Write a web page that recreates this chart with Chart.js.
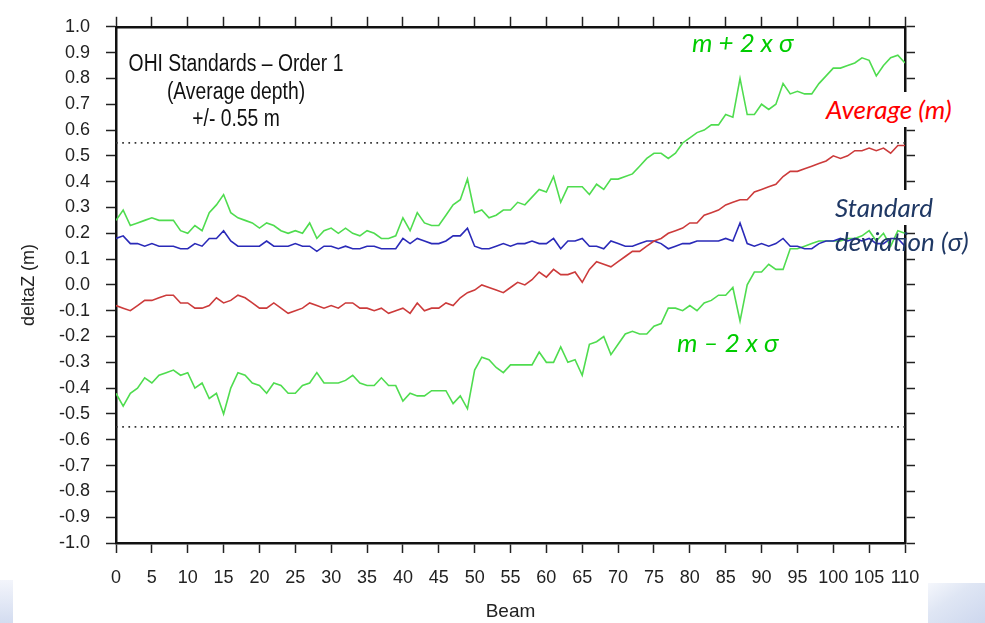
<!DOCTYPE html>
<html>
<head>
<meta charset="utf-8">
<script src="https://cdn.jsdelivr.net/npm/chart.js@4.4.1/dist/chart.umd.min.js"></script>
<style>
html,body{margin:0;padding:0;background:#fff;}
#wrap{position:relative;width:985px;height:623px;overflow:hidden;background:#fff;}
canvas{position:absolute;left:0;top:0;}
.ann{position:absolute;white-space:nowrap;font-family:Lato,"Open Sans",sans-serif;font-style:italic;font-size:26px;line-height:35px;}
#ohi{position:absolute;left:236px;top:50px;transform:translateX(-50%) scaleX(0.84);font-family:"Liberation Sans",Arial,sans-serif;font-size:23px;line-height:27.5px;text-align:center;color:#111;white-space:nowrap;}
#cl{position:absolute;left:0;top:580px;width:13px;height:43px;background:linear-gradient(to bottom,#f3f5fb,#d3dcf0);}
#cr{position:absolute;left:928px;top:583px;width:57px;height:40px;background:linear-gradient(to bottom right,#f5f7fc 0%,#dfe6f4 40%,#cdd7ee 100%);}
</style>
</head>
<body>
<div id="wrap">
<div id="cl"></div>
<div id="cr"></div>
<canvas id="c" width="985" height="623"></canvas>
<div id="ohi">OHI Standards – Order 1<br>(Average depth)<br>+/- 0.55 m</div>
<div class="ann" style="left:692px;top:25px;color:#00cc00;">m + 2 x σ</div>
<div class="ann" style="left:820px;top:92px;padding:0 6px;background:#fff;color:#ff0000;">Average (m)</div>
<div class="ann" style="left:829px;top:190px;padding:0 6px;background:#fff;color:#1f3864;">Standard</div>
<div class="ann" style="left:835px;top:224px;color:#1f3864;">deviation (σ)</div>
<div class="ann" style="left:677px;top:325px;color:#00cc00;">m – 2 x σ</div>
</div>
<script>
// Beam numbers (x categories)
const beams = [];
for (let b = 0; b <= 110; b++) beams.push(b);

// Average depth difference m (red)
const average = [
 -0.08,-0.09,-0.10,-0.08,-0.06,-0.06,-0.05,-0.04,-0.04,-0.07,
 -0.07,-0.09,-0.09,-0.08,-0.05,-0.07,-0.06,-0.04,-0.05,-0.07,
 -0.09,-0.09,-0.07,-0.09,-0.11,-0.10,-0.09,-0.07,-0.08,-0.09,
 -0.08,-0.09,-0.07,-0.07,-0.09,-0.09,-0.10,-0.09,-0.11,-0.10,
 -0.09,-0.11,-0.07,-0.10,-0.09,-0.09,-0.07,-0.08,-0.05,-0.03,
 -0.02, 0.00,-0.01,-0.02,-0.03,-0.01, 0.01, 0.00, 0.02, 0.05,
  0.03, 0.06, 0.04, 0.04, 0.05, 0.01, 0.06, 0.09, 0.08, 0.07,
  0.09, 0.11, 0.13, 0.13, 0.15, 0.17, 0.18, 0.20, 0.21, 0.22,
  0.24, 0.24, 0.27, 0.28, 0.29, 0.31, 0.32, 0.33, 0.33, 0.36,
  0.37, 0.38, 0.39, 0.42, 0.44, 0.44, 0.45, 0.46, 0.47, 0.48,
  0.50, 0.49, 0.50, 0.52, 0.52, 0.53, 0.52, 0.53, 0.51, 0.54,
  0.54
];

// Standard deviation sigma (blue)
const stdDev = [
 0.18,0.19,0.16,0.16,0.15,0.16,0.15,0.15,0.15,0.14,
 0.14,0.16,0.15,0.18,0.18,0.21,0.17,0.15,0.15,0.15,
 0.15,0.17,0.15,0.15,0.15,0.16,0.15,0.15,0.13,0.15,
 0.15,0.14,0.15,0.14,0.14,0.15,0.15,0.14,0.14,0.14,
 0.18,0.16,0.18,0.17,0.16,0.16,0.17,0.19,0.19,0.22,
 0.15,0.14,0.14,0.15,0.16,0.15,0.16,0.16,0.17,0.16,
 0.16,0.18,0.14,0.17,0.17,0.18,0.15,0.15,0.14,0.17,
 0.16,0.15,0.15,0.16,0.17,0.17,0.16,0.14,0.15,0.16,
 0.16,0.17,0.17,0.17,0.17,0.18,0.17,0.24,0.16,0.15,
 0.16,0.15,0.16,0.18,0.15,0.15,0.14,0.14,0.16,0.17,
 0.17,0.18,0.17,0.18,0.17,0.18,0.16,0.16,0.18,0.18,
 0.15
];

// m + 2 x sigma (upper green)
const upper = [
 0.25,0.29,0.23,0.24,0.25,0.26,0.25,0.25,0.25,0.21,
 0.20,0.23,0.21,0.28,0.31,0.35,0.28,0.26,0.25,0.24,
 0.22,0.24,0.23,0.21,0.20,0.21,0.20,0.24,0.18,0.21,
 0.22,0.20,0.22,0.20,0.19,0.21,0.20,0.18,0.18,0.19,
 0.26,0.21,0.28,0.24,0.23,0.23,0.27,0.31,0.33,0.41,
 0.28,0.29,0.26,0.27,0.29,0.29,0.32,0.31,0.34,0.37,
 0.36,0.42,0.32,0.38,0.38,0.38,0.35,0.39,0.37,0.41,
 0.41,0.42,0.43,0.46,0.49,0.51,0.51,0.49,0.51,0.55,
 0.57,0.59,0.60,0.62,0.62,0.66,0.65,0.80,0.66,0.66,
 0.70,0.68,0.70,0.78,0.74,0.75,0.74,0.74,0.78,0.81,
 0.84,0.84,0.85,0.86,0.88,0.87,0.81,0.85,0.88,0.89,
 0.86
];

// m - 2 x sigma (lower green)
const lower = [
 -0.42,-0.47,-0.42,-0.40,-0.36,-0.38,-0.35,-0.34,-0.33,-0.35,
 -0.34,-0.40,-0.38,-0.44,-0.42,-0.50,-0.40,-0.34,-0.35,-0.38,
 -0.39,-0.42,-0.38,-0.39,-0.42,-0.42,-0.39,-0.38,-0.34,-0.38,
 -0.38,-0.38,-0.37,-0.35,-0.38,-0.39,-0.39,-0.36,-0.39,-0.39,
 -0.45,-0.42,-0.43,-0.43,-0.41,-0.41,-0.41,-0.46,-0.43,-0.48,
 -0.33,-0.28,-0.29,-0.32,-0.34,-0.31,-0.31,-0.31,-0.31,-0.26,
 -0.30,-0.30,-0.24,-0.30,-0.29,-0.35,-0.23,-0.22,-0.20,-0.27,
 -0.23,-0.19,-0.18,-0.19,-0.19,-0.16,-0.15,-0.09,-0.09,-0.10,
 -0.08,-0.10,-0.07,-0.06,-0.04,-0.04,-0.01,-0.14, 0.00, 0.05,
  0.05, 0.08, 0.06, 0.06, 0.14, 0.14, 0.15, 0.16, 0.17, 0.17,
  0.17, 0.17, 0.18, 0.18, 0.19, 0.21, 0.17, 0.20, 0.15, 0.21,
  0.20
];

// OHI Order 1 tolerance lines
const tolerance = [0.55, -0.55];
const beamRange = [0, 110];

const pts = arr => beams.map((b, i) => ({x: b, y: arr[i]}));
const tolPts = v => beamRange.map(b => ({x: b, y: v}));

const line = (data, color) => ({
  data, borderColor: color, borderWidth: 1.6, pointRadius: 0, tension: 0, fill: false
});

const fontFamily = '"Liberation Sans", Arial, sans-serif';
const gridCommon = {drawOnChartArea: false, drawTicks: true, tickLength: 10, tickColor: '#222', tickWidth: 1.5};
const borderCommon = {display: true, color: '#111', width: 2.5};

new Chart(document.getElementById('c'), {
  type: 'line',
  data: {
    datasets: [
      line(pts(average), '#cc3b3b'),
      line(pts(stdDev), '#2a2ab8'),
      line(pts(upper), '#4fdc4f'),
      line(pts(lower), '#4fdc4f'),
      {data: tolPts(tolerance[0]), borderColor: '#333', borderWidth: 1.7, borderDash: [1.7, 4.5], pointRadius: 0, fill: false},
      {data: tolPts(tolerance[1]), borderColor: '#333', borderWidth: 1.7, borderDash: [1.7, 4.5], pointRadius: 0, fill: false}
    ]
  },
  options: {
    responsive: false,
    devicePixelRatio: 1,
    animation: false,
    events: [],
    layout: {padding: 0},
    plugins: {legend: {display: false}, tooltip: {enabled: false}},
    scales: {
      x: {
        type: 'linear', position: 'bottom', min: 0, max: 110,
        ticks: {stepSize: 5, padding: 14, font: {family: fontFamily, size: 18}, color: '#222', maxRotation: 0, autoSkip: false},
        grid: gridCommon, border: borderCommon,
        title: {display: true, text: 'Beam', color: '#222', font: {family: fontFamily, size: 19}, padding: {top: 0, bottom: 0}},
        afterFit: s => { s.height = 80; }
      },
      x2: {
        type: 'linear', position: 'top', min: 0, max: 110,
        ticks: {display: false, stepSize: 5},
        grid: gridCommon, border: borderCommon,
        afterFit: s => { s.height = 16; }
      },
      y: {
        type: 'linear', position: 'left', min: -1, max: 1,
        ticks: {stepSize: 0.1, padding: 16, font: {family: fontFamily, size: 18}, color: '#222', autoSkip: false,
          callback: v => (Math.abs(v) < 1e-9 ? 0 : v).toFixed(1)},
        grid: gridCommon, border: borderCommon,
        title: {display: true, text: 'deltaZ (m)', color: '#222', font: {family: fontFamily, size: 18}, padding: {top: 18, bottom: 0}},
        afterFit: s => { s.width = 116; }
      },
      y2: {
        type: 'linear', position: 'right', min: -1, max: 1,
        ticks: {display: false, stepSize: 0.1},
        grid: gridCommon, border: borderCommon,
        afterFit: s => { s.width = 80; }
      }
    }
  }
});
</script>
</body>
</html>
